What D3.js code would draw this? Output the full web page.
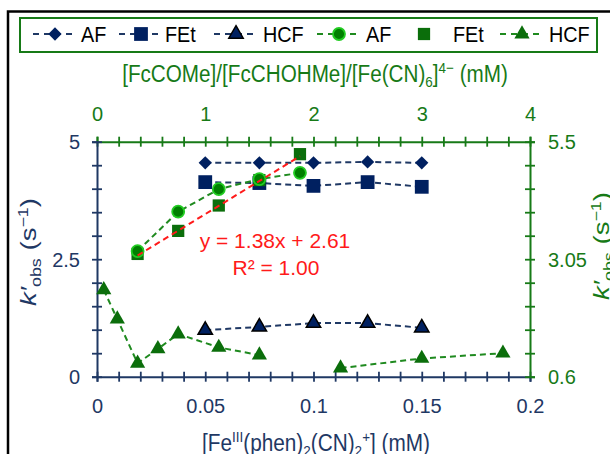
<!DOCTYPE html>
<html><head><meta charset="utf-8">
<script src="https://cdn.jsdelivr.net/npm/d3@7"></script>
<style>html,body{margin:0;padding:0;background:#fff;} svg{display:block;}</style>
</head><body><svg id="c" width="610" height="454"></svg>
<script>
// ---------- data ----------
const feConc  = [0.05, 0.075, 0.1, 0.125, 0.15];          // [Fe(III)(phen)2(CN)2+] (mM), bottom axis
const afNavy  = [4.55, 4.55, 4.55, 4.57, 4.55];
const fetNavy = [4.14, 4.12, 4.06, 4.14, 4.04];
const hcfNavy = [0.99, 1.06, 1.14, 1.14, 1.04];

const subConcAF  = [0.375, 0.75, 1.125, 1.5, 1.875];       // substrate (mM), top axis
const afGreen    = [3.22, 4.04, 4.51, 4.72, 4.85];
const subConcFEt = [0.375, 0.75, 1.125, 1.5, 1.875];
const fetGreen   = [3.16, 3.64, 4.17, 4.70, 5.24];
const subConcHCF = [0.0625, 0.1875, 0.375, 0.5625, 0.75, 1.125, 1.5, 2.25, 3.0, 3.75];
const hcfGreen   = [2.41, 1.80, 0.88, 1.18, 1.49, 1.21, 1.05, 0.78, 0.98, 1.09];
const hcfGreenRun = [0, 0, 0, 0, 0, 0, 0, 1, 1, 1];

const fitSlope = 1.38, fitIntercept = 2.61, fitR2 = 1.00;

const bottomTicks = [0, 0.05, 0.1, 0.15, 0.2];
const leftTicks   = [0, 2.5, 5];
const topTicks    = [0, 1, 2, 3, 4];
const rightTicks  = [0.6, 3.05, 5.5];
const legendLabels = ["AF", "FEt", "HCF", "AF", "FEt", "HCF"];

// ---------- layout ----------
const svg = d3.select("#c");
const L = 97, R = 530, T = 141.7, B = 376.7;
const FONT = "'Liberation Sans', Arial, Helvetica, sans-serif";
const NAVY_AX = "#1f3864", NAVY = "#002060";
const GREEN_AX = "#177a17", GREEN = "#0b6e0b", GREEN_LINE = "#1f8a1f";
const RED = "#ff1a1a";

svg.append("rect").attr("width", 610).attr("height", 454).attr("fill", "#fff");
svg.append("rect").attr("x", 8).attr("y", 11.5).attr("width", 700).attr("height", 600)
  .attr("fill", "none").attr("stroke", "#000").attr("stroke-width", 2.5);

const x  = d3.scaleLinear().domain([0, 0.2]).range([L, R]);
const xt = d3.scaleLinear().domain([0, 4]).range([L, R]);
const yl = d3.scaleLinear().domain([0, 5]).range([B, T]);
const yr = d3.scaleLinear().domain([0.6, 5.5]).range([B, T]);

function labelFor(list, v) {
  const m = list.find(t => Math.abs(t - v) < 1e-6);
  return m === undefined ? "" : String(m);
}
function styleAxis(g, color, orient) {
  g.select(".domain").attr("stroke", color).attr("stroke-width", 2);
  g.selectAll(".tick line").attr("stroke", color).attr("stroke-width", 1.8);
  if (orient === "h") g.selectAll(".tick line").attr("y1", -5).attr("y2", 5);
  else g.selectAll(".tick line").attr("x1", -5).attr("x2", 5);
  g.selectAll(".tick text").attr("fill", color).attr("font-family", FONT).attr("font-size", 20);
}

// bottom axis
const gB = svg.append("g").attr("transform", `translate(0,${B})`)
  .call(d3.axisBottom(x).tickValues(d3.range(21).map(i => i / 100)).tickSizeOuter(0).tickSize(5)
    .tickFormat(v => labelFor(bottomTicks, v)));
styleAxis(gB, NAVY_AX, "h");
gB.selectAll(".tick text").attr("y", 36.3).attr("dy", 0);

// top axis
const gT = svg.append("g").attr("transform", `translate(0,${T})`)
  .call(d3.axisTop(xt).tickValues(d3.range(21).map(i => i / 5)).tickSizeOuter(0).tickSize(5)
    .tickFormat(v => labelFor(topTicks, v)));
styleAxis(gT, GREEN_AX, "h");
gT.selectAll(".tick text").attr("y", -21).attr("dy", 0);

// left axis
const gL = svg.append("g").attr("transform", `translate(${L},0)`)
  .call(d3.axisLeft(yl).tickValues(d3.range(11).map(i => i / 2)).tickSizeOuter(0).tickSize(5)
    .tickFormat(v => labelFor(leftTicks, v)));
styleAxis(gL, NAVY_AX, "v");
gL.selectAll(".tick text").attr("x", -17).attr("dy", "0.36em");

// right axis
const gR = svg.append("g").attr("transform", `translate(${R},0)`)
  .call(d3.axisRight(yr).tickValues(d3.range(11).map(i => 0.6 + i * 0.49)).tickSizeOuter(0).tickSize(5)
    .tickFormat(v => labelFor(rightTicks, v)));
styleAxis(gR, GREEN_AX, "v");
gR.selectAll(".tick text").attr("x", 18).attr("dy", "0.36em");

// ---------- text helpers ----------
function richText(parent, parts, size, color) {
  const t = parent.append("text").attr("font-family", FONT).attr("font-size", size).attr("fill", color);
  let shift = 0;
  parts.forEach(p => {
    const s = p.s || 0; // +1 sup, -1 sub
    const target = s === 1 ? -size * 0.38 : (s === -1 ? size * 0.22 : 0);
    const ts = t.append("tspan").attr("dy", target - shift).text(p.t)
      .attr("font-size", s ? size * 0.65 : size);
    if (p.i) ts.attr("font-style", "italic");
    shift = target;
  });
  return t;
}
function place(t, cx, cy, rot, targetW) {
  t.attr("text-anchor", "middle");
  const w = t.node().getComputedTextLength();
  const s = targetW ? targetW / w : 1;
  t.attr("transform", `translate(${cx},${cy}) rotate(${rot}) scale(${s},1)`);
}

// axis titles
place(richText(svg, [{t: "[FcCOMe]/[FcCHOHMe]/[Fe(CN)"}, {t: "6", s: -1}, {t: "]"}, {t: "4−", s: 1}, {t: " (mM)"}], 23, GREEN_AX),
  315, 82, 0, 386);
place(richText(svg, [{t: "[Fe"}, {t: "III", s: 1}, {t: "(phen)"}, {t: "2", s: -1}, {t: "(CN)"}, {t: "2", s: -1}, {t: "+", s: 1}, {t: "] (mM)"}], 23, NAVY_AX),
  316, 451, 0, 228);
place(richText(svg, [{t: "k′", i: true}, {t: "obs", s: -1}, {t: " (s"}, {t: "−1", s: 1}, {t: ")"}], 22, NAVY_AX),
  36, 252, -90, 108);
place(richText(svg, [{t: "k′", i: true}, {t: "obs", s: -1}, {t: " (s"}, {t: "−1", s: 1}, {t: ")"}], 22, GREEN_AX),
  609, 246, -90, 108);

// ---------- marks ----------
const sym = {
  diamond: d3.symbol().type(d3.symbolSquare).size(88),
  square: d3.symbol().type(d3.symbolSquare).size(190),
  gsquare: d3.symbol().type(d3.symbolSquare).size(150),
  tri: d3.symbol().type(d3.symbolTriangle).size(90),
  gtri: d3.symbol().type(d3.symbolTriangle).size(100)
};
const dash = "6,4";

function series(xs, ys, xs_, ys_, color, runs) {
  const pts = xs.map((v, i) => ({x: xs_(v), y: ys_(ys[i]), run: runs ? runs[i] : 0}));
  d3.groups(pts, d => d.run).forEach(([, g]) => {
    svg.append("path").datum(g).attr("fill", "none").attr("stroke", color).attr("stroke-width", 2)
      .attr("stroke-dasharray", dash).attr("d", d3.line().x(d => d.x).y(d => d.y));
  });
  return pts;
}
function markers(pts, kind, fill, stroke, sw, rot) {
  svg.append("g").selectAll("path").data(pts).join("path")
    .attr("d", sym[kind]())
    .attr("transform", d => `translate(${d.x},${d.y}) rotate(${rot || 0})`)
    .attr("fill", fill).attr("stroke", stroke || "none").attr("stroke-width", sw || 0);
}

// navy series (bottom / left axes)
const pAF = series(feConc, afNavy, x, yl, NAVY_AX);
const pFEt = series(feConc, fetNavy, x, yl, NAVY_AX);
const pHCF = series(feConc, hcfNavy, x, yl, NAVY_AX);
markers(pAF, "diamond", NAVY, null, 0, 45);
markers(pFEt, "square", NAVY);
markers(pHCF, "tri", NAVY, "#000", 1.5);

// green series (top / right axes)
const pHCFg = series(subConcHCF, hcfGreen, xt, yr, GREEN_LINE, hcfGreenRun);
markers(pHCFg, "gtri", GREEN);
const pFEtg = subConcFEt.map((v, i) => ({x: xt(v), y: yr(fetGreen[i])}));
markers(pFEtg, "gsquare", GREEN);
const pAFg = series(subConcAF, afGreen, xt, yr, GREEN_LINE);
svg.append("g").selectAll("circle").data(pAFg).join("circle")
  .attr("cx", d => d.x).attr("cy", d => d.y).attr("r", 6)
  .attr("fill", "#008000").attr("stroke", "#22cc22").attr("stroke-width", 1.8);

// linear trendline for green FEt
const fx = d3.extent(subConcFEt);
svg.append("line")
  .attr("x1", xt(fx[0])).attr("y1", yr(fitSlope * fx[0] + fitIntercept))
  .attr("x2", xt(fx[1])).attr("y2", yr(fitSlope * fx[1] + fitIntercept))
  .attr("stroke", RED).attr("stroke-width", 2).attr("stroke-dasharray", dash);
svg.append("text").attr("x", 275).attr("y", 248).attr("text-anchor", "middle")
  .attr("font-family", FONT).attr("font-size", 21).attr("fill", RED)
  .text(`y = ${fitSlope.toFixed(2)}x + ${fitIntercept.toFixed(2)}`);
svg.append("text").attr("x", 276).attr("y", 275).attr("text-anchor", "middle")
  .attr("font-family", FONT).attr("font-size", 21).attr("fill", RED)
  .text(`R² = ${fitR2.toFixed(2)}`);

// ---------- legend ----------
const lg = svg.append("g");
lg.append("rect").attr("x", 20).attr("y", 18).attr("width", 577).attr("height", 34)
  .attr("fill", "#fff").attr("stroke", GREEN_AX).attr("stroke-width", 2);
const legendSpec = [
  {line: NAVY_AX, kind: "diamond", fill: NAVY, rot: 45, lx: 33, tx: 81},
  {line: NAVY_AX, kind: "square", fill: NAVY, lx: 119, tx: 165},
  {line: NAVY_AX, kind: "tri", fill: NAVY, stroke: "#000", sw: 1.5, lx: 214, tx: 263},
  {line: GREEN_LINE, kind: "circle", fill: "#008000", lx: 317, tx: 366},
  {line: null, kind: "gsquare", fill: GREEN, lx: 402, tx: 453},
  {line: GREEN_LINE, kind: "gtri", fill: GREEN, lx: 500, tx: 549}
];
const LY = 34;
legendSpec.forEach((s, i) => {
  const mx = s.lx + 22;
  if (s.line) {
    lg.append("line").attr("x1", s.lx).attr("x2", s.lx + 44).attr("y1", LY).attr("y2", LY)
      .attr("stroke", s.line).attr("stroke-width", 2).attr("stroke-dasharray", "6,5");
  }
  if (s.kind === "circle") {
    lg.append("circle").attr("cx", mx).attr("cy", LY).attr("r", 6)
      .attr("fill", s.fill).attr("stroke", "#22cc22").attr("stroke-width", 1.8);
  } else {
    lg.append("path").attr("d", sym[s.kind]())
      .attr("transform", `translate(${mx},${LY}) rotate(${s.rot || 0})`)
      .attr("fill", s.fill).attr("stroke", s.stroke || "none").attr("stroke-width", s.sw || 0);
  }
  const t = lg.append("text").attr("font-family", FONT).attr("font-size", 22).attr("fill", "#000")
    .text(legendLabels[i]);
  t.attr("transform", `translate(${s.tx},${LY + 8}) scale(0.9,1)`);
});
</script>
</body></html>
